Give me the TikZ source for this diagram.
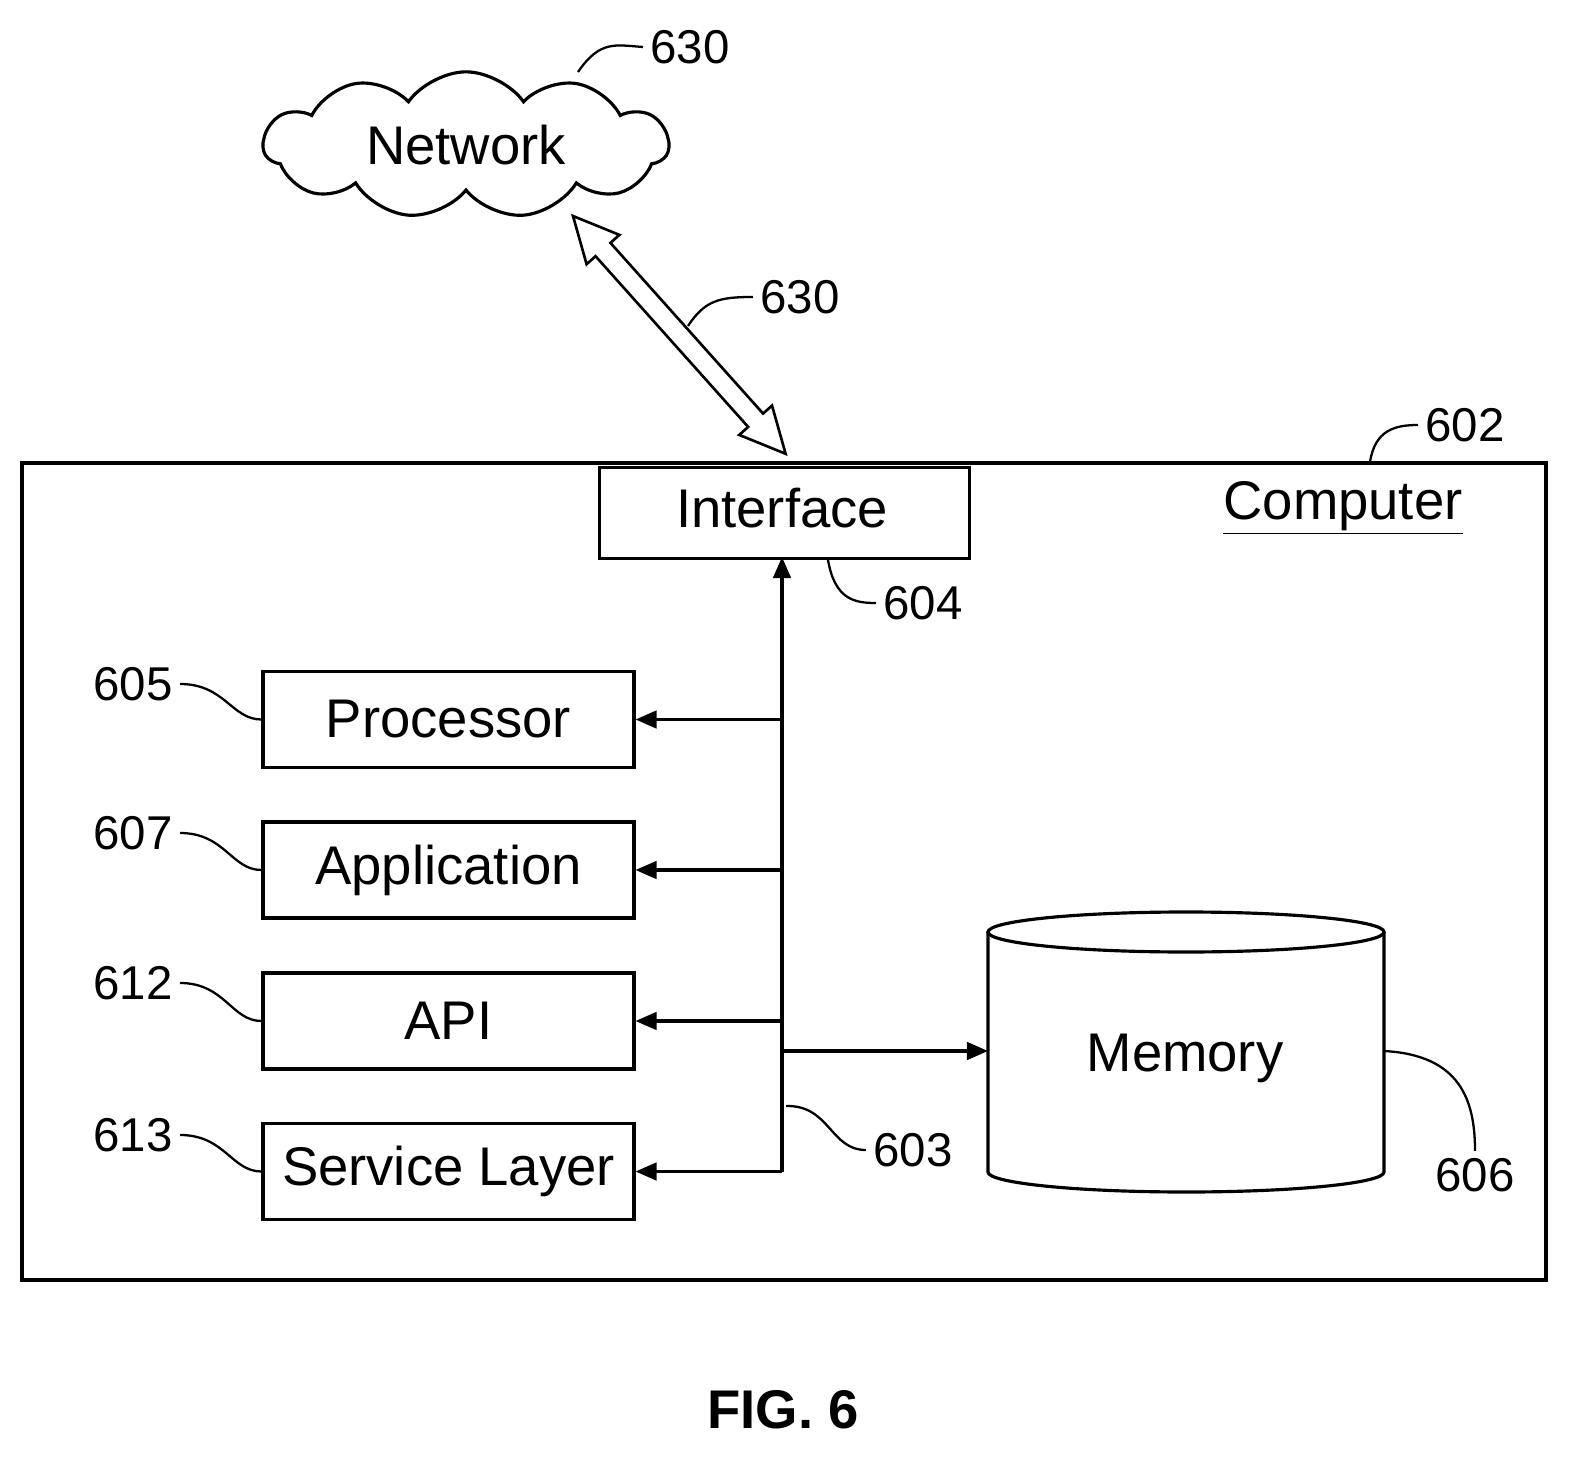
\documentclass[tikz,border=0pt]{standalone}
\usepackage{fontspec}
\setmainfont{Liberation Sans}
\usetikzlibrary{shapes.symbols,shapes.geometric,arrows.meta}
\begin{document}
\begin{tikzpicture}[x=0.02cm,y=-0.02cm,line width=1.8pt,
 box/.style={draw,minimum width=7.42cm,minimum height=1.92cm,font=\fontsize{31}{34}\selectfont},
 num/.style={font=\fontsize{27}{30}\selectfont},
 lead/.style={line width=1.3pt},
 arr/.style={-{Triangle[length=12pt,width=10pt]}}]
\useasboundingbox (0,0) rectangle (1579,1466);
\draw (22,463) rectangle (1546,1280);
\node[draw,minimum width=7.4cm,minimum height=1.82cm,anchor=north west,inner sep=0] (int) at (598,466) {};
\node[font=\fontsize{31}{34}\selectfont] at (782,508) {Interface};
\node[font=\fontsize{31}{34}\selectfont] (comp) at (1343,508) {\underline{Computer}};
\node[num] (n602) at (1465,425) {602};
\draw[lead] (1370,462) .. controls (1375,430) and (1395,425) .. (n602.west);
\node[box] (proc) at (448.5,719.5) {Processor};
\node[box] (app) at (448.5,870) {Application};
\node[box] (api) at (448.5,1021) {API};
\node[box] (svc) at (448.5,1171.5) {Service Layer};
\coordinate (bt) at (782,1172);
\draw[arr] (bt) -- (782,557);
\foreach \n/\y in {proc/719.5,app/870,api/1021,svc/1171.5}
  \draw[arr] (782,\y) -- (\n.east);
% memory cylinder
\coordinate (mw) at (988,1051);
\coordinate (me) at (1384,1051);
\draw[fill=white] (988,932) -- (988,1172) arc[start angle=180,end angle=360,x radius=198,y radius=-20] -- (1384,932);
\draw (1186,932) ellipse[x radius=198,y radius=20];
\node[font=\fontsize{31}{34}\selectfont] (mem) at (1185,1058) {Memory};
\draw[arr] (782,1051) -- (mw);
\node[num] (n605) at (133,684) {605};
\node[num] (n607) at (133,833) {607};
\node[num] (n612) at (133,983) {612};
\node[num] (n613) at (133,1135) {613};
\foreach \a/\b in {n605/proc,n607/app,n612/api,n613/svc}
  \draw[lead] (\a.east) .. controls +(45,0) and +(-30,0) .. (\b.west);
\node[num] (n604) at (923,603) {604};
\draw[lead] (828,560) .. controls (835,600) and (855,603) .. (n604.west);
\node[num] (n603) at (913,1150) {603};
\draw[lead] (786,1106) .. controls (830,1105) and (830,1150) .. (n603.west);
\node[num] (n606) at (1475,1175) {606};
\draw[lead] (me) .. controls (1460,1055) and (1475,1100) .. (n606.north);
\node[cloud,draw,cloud puffs=11,cloud puff arc=110,aspect=2.8,minimum width=8.1cm,minimum height=2.9cm,font=\fontsize{31}{34}\selectfont] (net) at (466,145) {Network};
\node[num] (n630a) at (690,47) {630};
\draw[lead] (578,72) .. controls (600,40) and (615,45) .. (n630a.west);
\coordinate (as) at (573,216);
\coordinate (ae) at (786,454);
\begin{scope}[shift={(as)},rotate=-48.2]
\draw[line width=1.5pt,fill=white] (0,0) -- (45,22) -- (45,10) -- (274,10) -- (274,22) -- (319,0) -- (274,-22) -- (274,-10) -- (45,-10) -- (45,-22) -- cycle;
\end{scope}
\node[num] (n630b) at (800,297) {630};
\draw[lead] (688,326) .. controls (705,300) and (720,297) .. (n630b.west);
\node[font=\bfseries\fontsize{31}{34}\selectfont] (fig) at (783,1410) {FIG. 6};
\end{tikzpicture}
\end{document}
